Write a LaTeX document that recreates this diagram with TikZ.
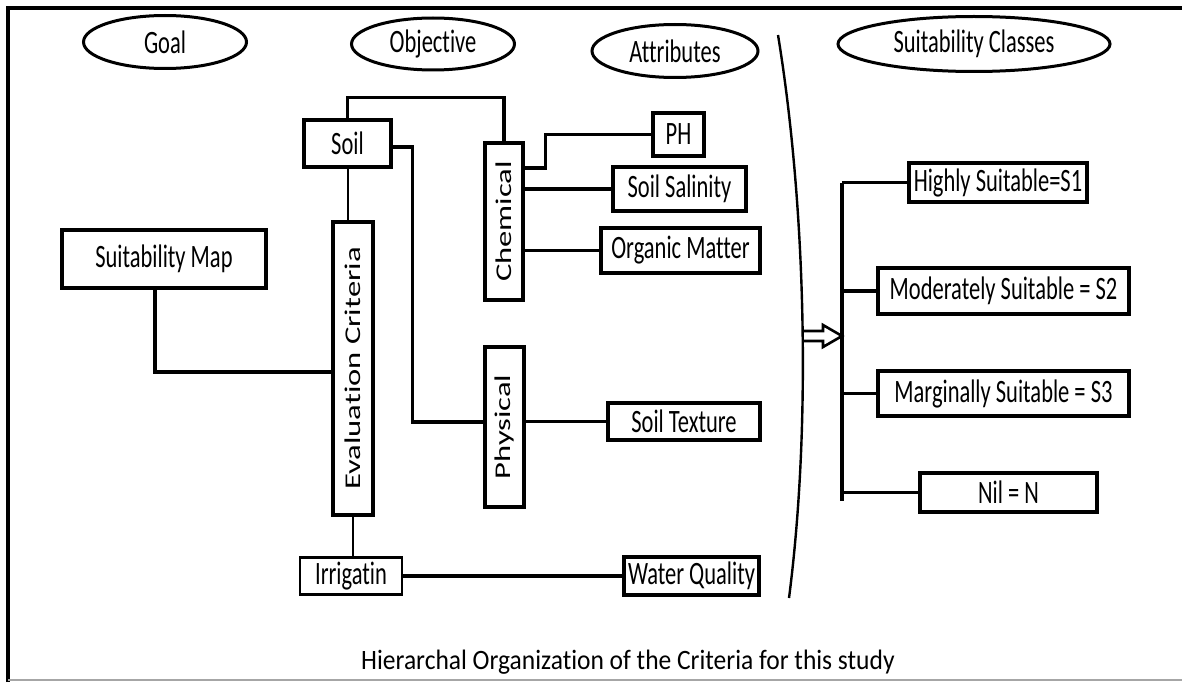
\documentclass[tikz,border=0pt]{standalone}
\usepackage{fontspec}
\setmainfont{Carlito}[Ligatures=NoCommon]
\usetikzlibrary{shapes.geometric,calc}
\newcommand{\hst}[1]{\scalebox{1}[1.45]{#1}}
\newcommand{\vst}[1]{\rotatebox{90}{\scalebox{1.45}[1]{#1}}}
\tikzset{
  boxnode/.style={draw, line width=3.2pt, rectangle, inner sep=0pt, font=\fontsize{22.5}{27}\selectfont},
  ellnode/.style={draw, line width=3pt, ellipse, inner sep=0pt, font=\fontsize{22.5}{27}\selectfont},
  conn/.style={line width=3.2pt},
  thinconn/.style={line width=1.2pt},
}
\begin{document}
\begin{tikzpicture}[x=1pt,y=-1pt]
\useasboundingbox (0,0) rectangle (1182,682);
% frame
\draw[line width=3.4pt] (8,682) -- (8,8) -- (1182,8);
\draw[line width=1.4pt, gray!70] (8,680) -- (1182,680);

% header ellipses
\node[ellnode, minimum width=163pt, minimum height=53pt] (goal) at (165,42) {\hst{Goal}};
\node[ellnode, minimum width=163pt, minimum height=52pt] (obj) at (433,44) {\hst{Objective}};
\node[ellnode, minimum width=166pt, minimum height=53pt] (attr) at (675,51) {\hst{Attributes}};
\node[ellnode, minimum width=272pt, minimum height=55pt] (scl) at (974,44) {\hst{Suitability Classes}};

% boxes
\node[boxnode, minimum width=87pt, minimum height=47pt] (soil) at (347.5,143.5) {\hst{Soil}};
\node[boxnode, minimum width=38pt, minimum height=157pt] (chem) at (504,221.5) {\vst{Chemical}};
\node[boxnode, minimum width=39pt, minimum height=160pt] (phys) at (504.5,427) {\vst{Physical}};
\node[boxnode, minimum width=40pt, minimum height=293pt] (eval) at (353,368.5) {\vst{Evaluation Criteria}};
\node[boxnode, line width=1.2pt, minimum width=102pt, minimum height=36pt] (irr) at (351,576) {\hst{Irrigatin}\hspace{12pt}};
\node[boxnode, minimum width=135pt, minimum height=38pt] (wq) at (691.5,576) {\hst{Water Quality}};
\node[boxnode, minimum width=51pt, minimum height=43pt] (ph) at (678.5,134.5) {\hst{PH}};
\node[boxnode, minimum width=133pt, minimum height=44pt] (sal) at (679.5,189) {\hst{Soil Salinity}};
\node[boxnode, minimum width=159pt, minimum height=45pt] (org) at (680.5,250.5) {\hst{Organic Matter}};
\node[boxnode, minimum width=152pt, minimum height=37pt] (tex) at (684,421.5) {\hst{Soil Texture}};
\node[boxnode, minimum width=204pt, minimum height=58pt] (smap) at (164,259) {\hst{Suitability Map}\hspace{18pt}};
\node[boxnode, minimum width=178pt, minimum height=39pt] (hs) at (998,182.5) {\hst{Highly Suitable=S1}};
\node[boxnode, minimum width=251pt, minimum height=46pt] (ms) at (1003.5,291) {\hst{Moderately Suitable = S2}};
\node[boxnode, minimum width=251pt, minimum height=45pt] (mg) at (1003.5,393.5) {\hst{Marginally Suitable = S3}};
\node[boxnode, minimum width=177pt, minimum height=39pt] (nil) at (1008.5,492.5) {\hst{Nil = N}\hspace{44pt}};

% thick top/bottom of Irrigatin box
\draw[line width=3.4pt] (irr.north west) -- (irr.north east);
\draw[line width=3.4pt] (irr.south west) -- (irr.south east);

% connectors
\draw[conn] (soil.north) -- ++(0,-21) -| (chem.north);
\draw[conn] ($(soil.east)+(0,3.5)$) -- ++(20,0) |- ($(phys.west)+(0,-5)$);
\draw[line width=2pt] (soil.south) -- (soil.south |- eval.north);
\draw[conn] ($(smap.south)+(-9,0)$) |- ($(eval.west)+(0,3.5)$);
\draw[conn] ($(chem.east)+(0,-53.5)$) -- ++(21,0) |- (ph.west);
\draw[conn] (chem.east |- sal.west) -- (sal.west);
\draw[conn] (chem.east |- org.west) -- (org.west);
\draw[conn] (phys.east |- tex.west) -- (tex.west);
\draw[thinconn] (eval.south) -- (eval.south |- irr.north);
\draw[conn] (irr.east) -- (wq.west);

% divider
\coordinate (dtop) at (778,35);
\coordinate (dbot) at (789,598);
\draw[line width=2.4pt] (dtop) .. controls (805,200) and (812,420) .. (dbot);

% right bracket
\coordinate (br) at (842,336);
\draw[conn] (br |- hs.west) -- ($(br |- nil.west)+(0,8)$);
\draw[conn] (br |- hs.west) -- (hs.west);
\draw[conn] (br |- ms.west) -- (ms.west);
\draw[conn] (br |- mg.west) -- (mg.west);
\draw[conn] (br |- nil.west) -- (nil.west);

% hollow arrow from divider to bracket
\coordinate (astart) at (803,336);
\draw[line width=2.6pt, line join=miter]
  ($(astart)+(0,-5)$) -- ++(20,0) -- ++(0,-6) -- (br) -- ($(astart)+(20,11)$) -- ++(0,-6) -- ($(astart)+(0,5)$);

% caption
\node[font=\fontsize{25.5}{30}\selectfont, anchor=base west, inner sep=0pt] (cap) at (361,669) {\scalebox{1}[1.1]{Hierarchal Organization of the Criteria for this study}};
\end{tikzpicture}
\end{document}
